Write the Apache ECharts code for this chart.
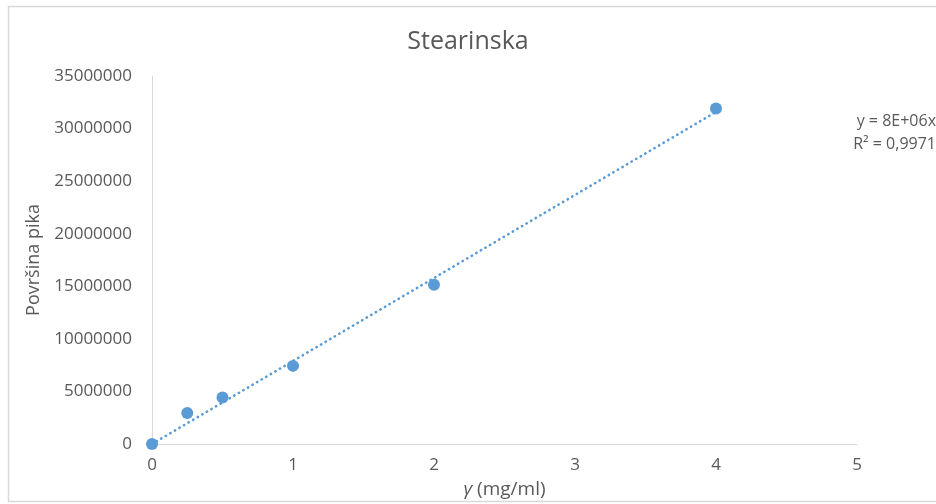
<!DOCTYPE html>
<html>
<head>
<meta charset="utf-8">
<script src="https://cdn.jsdelivr.net/npm/echarts@6/dist/echarts.min.js"></script>
<style>html,body{margin:0;padding:0;background:#fff}#c{width:936px;height:504px}</style>
</head>
<body>
<div id="c"></div>
<script>
// Data
const concentrations = [0, 0.25, 0.5, 1, 2, 4];            // γ (mg/ml)
const peakAreas = [0, 2950000, 4420000, 7430000, 15150000, 31900000]; // Površina pika
const yTicks = [0, 5000000, 10000000, 15000000, 20000000, 25000000, 30000000, 35000000];
const xTicks = [0, 1, 2, 3, 4, 5];
const titleText = 'Stearinska';
const yAxisName = 'Površina pika';
const xAxisSymbol = 'γ';
const xAxisUnit = ' (mg/ml)';
const equationLines = ['y = 8E+06x', 'R² = 0,9971'];

// Linear trendline through origin (least squares fit of the data)
let sxy = 0, sxx = 0;
concentrations.forEach((x, i) => { sxy += x * peakAreas[i]; sxx += x * x; });
const slope = sxy / sxx;
const xMin = Math.min(...concentrations), xMax = Math.max(...concentrations);
const trend = [[xMin, slope * xMin], [xMax, slope * xMax]];

const txt = '#595959';
const font = '"Open Sans", "DejaVu Sans", sans-serif';
const chart = echarts.init(document.getElementById('c'), null, { renderer: 'canvas' });
chart.setOption({
  animation: false,
  backgroundColor: '#ffffff',
  title: {
    text: titleText, left: 'center', top: 24,
    textStyle: { color: txt, fontFamily: font, fontSize: 25, fontWeight: 'normal' }
  },
  grid: { left: 152, right: 79, top: 76, bottom: 56, containLabel: false },
  xAxis: {
    type: 'value', min: xTicks[0], max: xTicks[xTicks.length - 1], interval: 1,
    name: '{i|' + xAxisSymbol + '}' + xAxisUnit, nameLocation: 'middle', nameGap: 36,
    nameTextStyle: { color: txt, fontFamily: font, fontSize: 19,
      rich: { i: { fontStyle: 'italic', fontFamily: font, fontSize: 19, color: txt } } },
    axisLine: { show: true, lineStyle: { color: '#d9d9d9', width: 1 } },
    axisTick: { show: false },
    splitLine: { show: false },
    axisLabel: { color: txt, fontFamily: font, fontSize: 17, margin: 13 }
  },
  yAxis: {
    type: 'value', min: yTicks[0], max: yTicks[yTicks.length - 1], interval: 5000000,
    name: yAxisName, nameLocation: 'middle', nameGap: 104, nameRotate: 90,
    nameTextStyle: { color: txt, fontFamily: font, fontSize: 18 },
    axisLine: { show: true, lineStyle: { color: '#d9d9d9', width: 1 } },
    axisTick: { show: false },
    splitLine: { show: false },
    axisLabel: { color: txt, fontFamily: font, fontSize: 17, margin: 20,
      formatter: v => String(v) }
  },
  series: [
    {
      type: 'line', data: trend, symbol: 'none', silent: true, z: 1,
      lineStyle: { color: '#5b9bd5', width: 2.6, type: [0.3, 5], cap: 'round', opacity: 1 }
    },
    {
      type: 'scatter', data: concentrations.map((x, i) => [x, peakAreas[i]]),
      symbol: 'circle', symbolSize: 12, z: 2,
      itemStyle: { color: '#5b9bd5', opacity: 1 }
    }
  ],
  graphic: [
    { type: 'rect', shape: { x: 8.5, y: 6.5, width: 940, height: 495 },
      style: { fill: 'none', stroke: '#d9d9d9', lineWidth: 1.5 }, silent: true },
    { type: 'text', x: 936, y: 110,
      style: { text: equationLines.join('\n'), fill: txt, font: '16px ' + font,
        textAlign: 'right', lineHeight: 23 } }
  ]
});
</script>
</body>
</html>
